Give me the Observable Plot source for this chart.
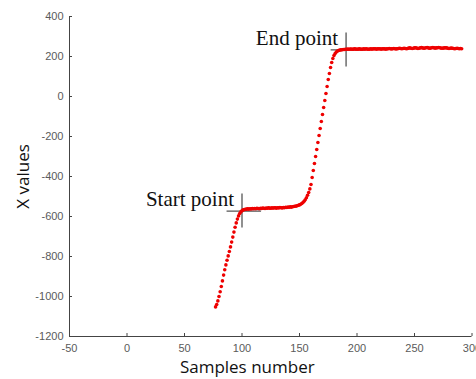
<!DOCTYPE html>
<html>
<head>
<meta charset="utf-8">
<script src="https://cdn.jsdelivr.net/npm/d3@7"></script>
<script src="https://cdn.jsdelivr.net/npm/@observablehq/plot@0.6"></script>
<style>
  html, body { margin: 0; padding: 0; background: #ffffff; }
  #chart { width: 476px; height: 379px; overflow: hidden; }
</style>
</head>
<body>
<div id="chart"></div>
<script>
// Tick values
const xTicks = [-50, 0, 50, 100, 150, 200, 250, 300];
const yTicks = [-1200, -1000, -800, -600, -400, -200, 0, 200, 400];

// Sample numbers start here (one value per sample)
const firstSample = 77;
// X values, one per sample (77 .. 291)
const xValues = [
  -1052, -1040, -1022, -1000, -976, -950, -922, -893, -866, -842,
  -819, -797, -775, -752, -728, -703, -678, -654, -632, -613,
  -597, -585, -577, -571, -567, -565, -564,
  -563, -562, -563, -561, -562, -560, -561, -560, -561, -559,
  -560, -561, -559, -560, -558, -559, -560, -558, -559, -557,
  -558, -559, -557, -558, -556, -557, -558, -556, -557, -555,
  -556, -557, -555, -556, -554, -555, -553, -554, -552, -553,
  -551, -550, -549, -548, -546, -544, -542,
  -539, -535, -530, -524, -516, -506, -494, -480, -462, -440,
  -405, -370, -335, -300, -265, -230, -195, -160, -125, -90,
  -55, -20, 15, 50, 85,
  115, 145, 170, 190, 205, 215, 222, 227, 230, 232,
  233, 234, 235, 235, 236,
  236, 237, 236, 237, 237, 236, 237, 238, 237, 236,
  237, 238, 237, 236, 237, 238, 237, 238, 237, 236,
  237, 238, 237, 238, 239, 238, 237, 238, 239, 238,
  237, 238, 239, 238, 237, 238, 239, 240, 239, 238,
  239, 240, 239, 238, 239, 240, 241, 240, 239, 240,
  241, 240, 239, 240, 242, 243, 241, 240, 241, 243,
  244, 242, 240, 241, 243, 245, 243, 241, 242, 244,
  245, 243, 241, 242, 244, 245, 243, 242, 243, 244,
  245, 244, 242, 241, 242, 243, 244, 243, 241, 240,
  241, 242, 241, 240, 239, 240, 241, 240, 239, 240,
  239
];

// Annotated points
const markerLabels = ["Start point", "End point"];
const markerSamples = [100, 190.5];
const markerValues = [-573, 233];

const samples = xValues.map((v, i) => ({sample: firstSample + i, value: v}));
const markers = markerLabels.map((label, i) => ({label, sample: markerSamples[i], value: markerValues[i]}));

const axisColor = "#444444";
const labelColor = "#5a5a5a";
const plainFormat = d => String(d);

const chart = Plot.plot({
  width: 476,
  height: 379,
  marginLeft: 69,
  marginRight: 4.5,
  marginTop: 16,
  marginBottom: 43,
  x: {domain: [-50, 300]},
  y: {domain: [-1200, 400]},
  style: {fontFamily: "'Liberation Sans', Arial, sans-serif", fontSize: "11px", background: "#ffffff", overflow: "visible"},
  marks: [
    Plot.axisX({ticks: xTicks, tickFormat: plainFormat, tickSize: -3, tickPadding: 11, label: null, stroke: axisColor, fill: labelColor, fontSize: 11}),
    Plot.axisY({ticks: yTicks, tickFormat: plainFormat, tickSize: -3, tickPadding: 9, label: null, stroke: axisColor, fill: labelColor, fontSize: 11}),
    Plot.ruleX([-50], {stroke: axisColor, strokeWidth: 1}),
    Plot.ruleY([-1200], {stroke: axisColor, strokeWidth: 1}),
    // crosshairs
    Plot.ruleX(markers, {x: "sample", y1: d => d.value - 85, y2: d => d.value + 85, stroke: "#555555", strokeWidth: 1.3}),
    Plot.ruleY(markers, {y: "value", x1: d => d.sample - 13, x2: d => d.sample + 17, stroke: "#555555", strokeWidth: 1.3}),
    // data
    Plot.dot(samples, {x: "sample", y: "value", r: 1.8, fill: "#ee0000", stroke: "none"}),
    // annotations
    Plot.text(markers, {x: "sample", y: "value", text: "label", textAnchor: "end", lineAnchor: "bottom", dx: -8, dy: -5,
      fontFamily: "'Liberation Serif', 'Times New Roman', serif", fontSize: 21, fill: "#111111"}),
    // axis titles
    Plot.text(["X values"], {frameAnchor: "left", dx: -46, rotate: -90, textAnchor: "middle", lineAnchor: "middle",
      fontFamily: "'Open Sans', sans-serif", fontSize: 17, fill: "#111111"}),
    Plot.text(["Samples number"], {frameAnchor: "bottom", dx: -23.5, dy: 31, textAnchor: "middle", lineAnchor: "middle",
      fontFamily: "'Open Sans', sans-serif", fontSize: 17, fill: "#111111"})
  ]
});
document.getElementById("chart").appendChild(chart);
</script>
</body>
</html>
